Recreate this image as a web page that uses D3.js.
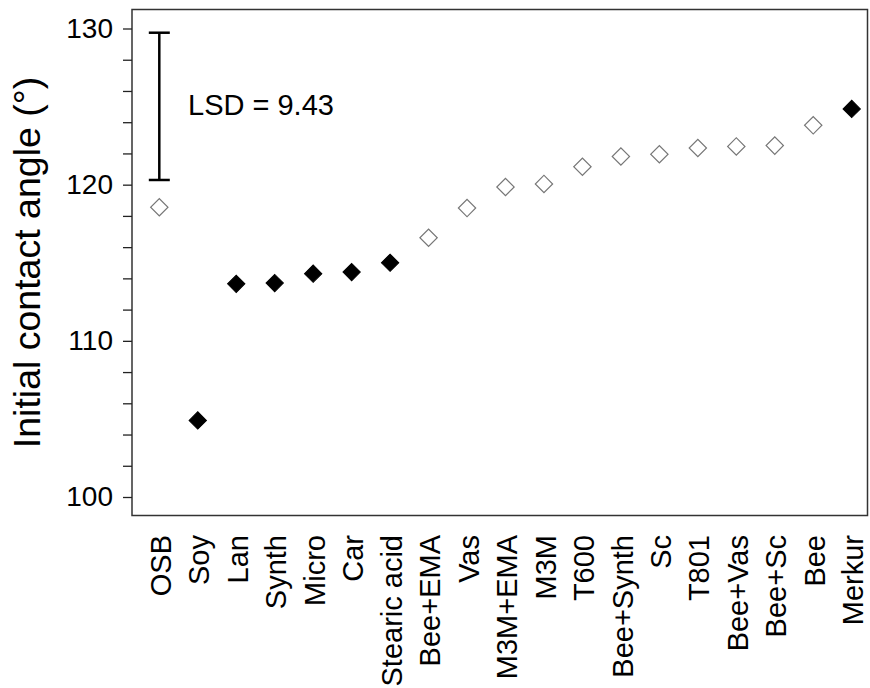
<!DOCTYPE html>
<html>
<head>
<meta charset="utf-8">
<script src="https://cdn.jsdelivr.net/npm/d3@7"></script>
<style>
body { margin: 0; background: #fff; }
text { font-family: "Liberation Sans", Arial, sans-serif; fill: #000; }
</style>
</head>
<body>
<svg width="870" height="688"></svg>
<script>
// data
const categories = ["OSB","Soy","Lan","Synth","Micro","Car","Stearic acid","Bee+EMA","Vas","M3M+EMA","M3M","T600","Bee+Synth","Sc","T801","Bee+Vas","Bee+Sc","Bee","Merkur"]
const values = [118.55, 104.9, 113.65, 113.7, 114.3, 114.4, 115.0, 116.6, 118.5, 119.85, 120.05, 121.15, 121.8, 121.95, 122.35, 122.45, 122.5, 123.8, 124.85]
const filled = [false, true, true, true, true, true, true, false, false, false, false, false, false, false, false, false, false, false, true]
const yTicks = [100, 102, 104, 106, 108, 110, 112, 114, 116, 118, 120, 122, 124, 126, 128, 130]
const yLabels = [100, 110, 120, 130]
const lsd = 9.43
const lsdLow = 120.3

const data = categories.map((c,i)=>({name: c, value: values[i], filled: filled[i]}))

const svg = d3.select("svg")

const plotL = 132, plotR = 867.5, plotT = 9.5, plotB = 515.5

// scales
const x = d3.scalePoint()
	.domain(categories)
	.range([159.3, 851.7])

const y = d3.scaleLinear()
	.domain([100, 130])
	.range([497, 28.5])

// frame
svg.append("rect")
	.attr("x", plotL)
	.attr("y", plotT)
	.attr("width", plotR - plotL)
	.attr("height", plotB - plotT)
	.attr("fill", "none")
	.attr("stroke", "#333")
	.attr("stroke-width", 1.5)

// y axis
const yAxis = svg.append("g")
	.attr("transform", `translate(${plotL},0)`)
	.call(d3.axisLeft(y)
		.tickValues(yTicks)
		.tickSize(9)
		.tickPadding(10)
		.tickFormat(d => yLabels.includes(d) ? d : ""))

yAxis.select(".domain").remove()
yAxis.selectAll(".tick line").attr("stroke", "#222").attr("stroke-width", 1.3)
yAxis.selectAll(".tick text")
	.style("font-size", "28px")
	.style("font-family", "'Liberation Sans', Arial, sans-serif")
	.attr("fill", "#000")

// y title
svg.append("text")
	.attr("transform", `translate(40,${(plotT + plotB) / 2}) rotate(-90)`)
	.attr("text-anchor", "middle")
	.style("font-size", "37.5px")
	.text("Initial contact angle (°)")

// x labels (no tick marks)
svg.selectAll("text.xlab")
	.data(categories)
	.enter()
	.append("text")
	.attr("class", "xlab")
	.attr("transform", d => `translate(${x(d) + 1.5},535) rotate(-90)`)
	.attr("text-anchor", "end")
	.attr("dy", "0.35em")
	.style("font-size", "29px")
	.text(d => d)

// LSD bar
const lsdX = x(categories[0])
const lsdG = svg.append("g")
	.attr("stroke", "#000")
	.attr("stroke-width", 2.5)
lsdG.append("line")
	.attr("x1", lsdX).attr("x2", lsdX)
	.attr("y1", y(lsdLow)).attr("y2", y(lsdLow + lsd))
lsdG.append("line")
	.attr("x1", lsdX - 10.5).attr("x2", lsdX + 10.5)
	.attr("y1", y(lsdLow)).attr("y2", y(lsdLow))
lsdG.append("line")
	.attr("x1", lsdX - 10.5).attr("x2", lsdX + 10.5)
	.attr("y1", y(lsdLow + lsd)).attr("y2", y(lsdLow + lsd))

svg.append("text")
	.attr("x", 188)
	.attr("y", 115)
	.style("font-size", "29px")
	.text("LSD = " + lsd)

// points
const diamond = d3.symbol().type(d3.symbolSquare).size(150)

svg.selectAll("path.pt")
	.data(data)
	.enter()
	.append("path")
	.attr("class", "pt")
	.attr("d", diamond)
	.attr("transform", d => `translate(${x(d.name)},${y(d.value)}) rotate(45)`)
	.attr("fill", d => d.filled ? "#000" : "#fff")
	.attr("stroke", d => d.filled ? "#000" : "#777")
	.attr("stroke-width", d => d.filled ? 1 : 1.2)
</script>
</body>
</html>
